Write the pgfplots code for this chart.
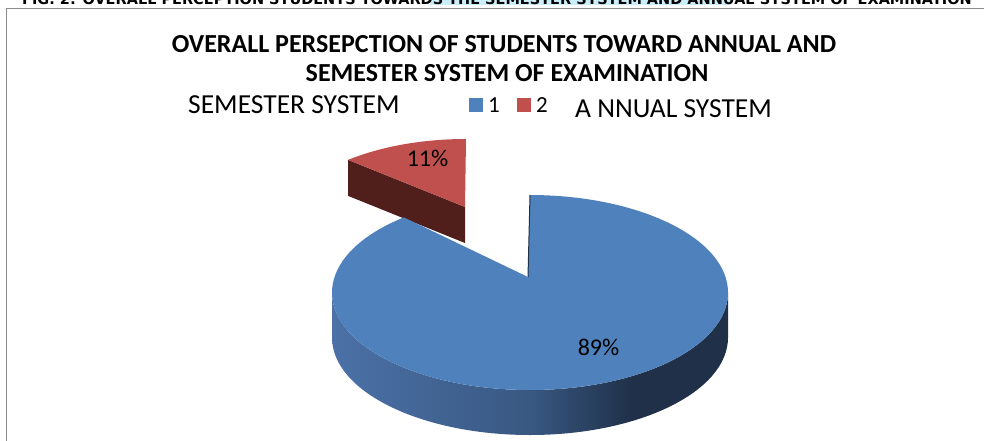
\documentclass[border=0pt]{standalone}
\usepackage{fontspec}
\setmainfont{Carlito}
\newfontfamily\capfont{DejaVu Sans}
\usepackage{pgfplots}
\usepackage{pgfplotstable}
\pgfplotsset{compat=1.18}

\definecolor{blueTop}{HTML}{4F81BD}
\definecolor{redTop}{HTML}{C0504D}
\definecolor{redSide}{HTML}{501F1C}
\definecolor{sideL}{HTML}{4B71A7}
\definecolor{sideM}{HTML}{395882}
\definecolor{sideR}{HTML}{1F3048}
\definecolor{frameGray}{HTML}{8C8C8C}
\definecolor{hiCyan}{HTML}{CBEFFA}

\pgfdeclarehorizontalshading{blueside}{100bp}{color(0bp)=(sideL); color(25bp)=(sideL); color(50bp)=(sideM); color(63bp)=(sideR); color(75bp)=(sideR); color(100bp)=(sideR)}

% share of each group (percent)
\pgfplotstableread{
group value
1 89
2 11
}\piedata

\begin{document}
\begin{tikzpicture}[x=1pt,y=1pt]
\pgfplotstablegetelem{0}{value}\of\piedata \edef\vA{\pgfplotsretval}
\pgfplotstablegetelem{1}{value}\of\piedata \edef\vB{\pgfplotsretval}
\pgfmathsetmacro\tot{\vA+\vB}
\pgfmathsetmacro\aE{90+360*\vB/\tot}
% blue slice geometry
\def\bAx{528}\def\bAy{163}\def\bCx{530}\def\bCy{147.5}\def\brx{198}\def\bry{97.5}\def\bd{45}
\pgfmathsetmacro\bPx{\bCx+\brx*cos(\aE)}
\pgfmathsetmacro\bPy{\bCy+\bry*sin(\aE)}
\pgfmathsetmacro\bTx{\bCx}
\pgfmathsetmacro\bTy{\bCy+\bry}
\pgfmathsetmacro\bLx{\bCx-\brx}
% red slice geometry (exploded)
\def\rAx{465}\def\rAy{233}\def\rCx{466}\def\rCy{210}\def\rrx{185}\def\rry{91}\def\rd{36}
\pgfmathsetmacro\rPx{\rCx+\rrx*cos(\aE)}
\pgfmathsetmacro\rPy{\rCy+\rry*sin(\aE)}
\pgfmathsetmacro\rTy{\rCy+\rry}
\pgfmathsetmacro\rPyd{\rPy-\rd}
\pgfmathsetmacro\rAyd{\rAy-\rd}
\begin{axis}[
  at={(0,0)}, anchor=south west,
  scale only axis, width=984pt, height=440pt,
  xmin=0, xmax=984, ymin=0, ymax=440,
  hide axis, clip=false, disabledatascaling,
]
% red exploded slice: cut face, then top
\fill[redSide] (axis cs:\rAx,\rAy) -- (axis cs:\rPx,\rPy) -- (axis cs:\rPx,\rPyd) -- (axis cs:\rAx,\rAyd) -- cycle;
\fill[redTop] (axis cs:\rAx,\rAy) -- (axis cs:\rCx,\rTy) arc[start angle=90, end angle=\aE, x radius=\rrx, y radius=\rry] -- cycle;
% blue slice: front side, then top
\shade[shading=blueside] (axis cs:\bLx,\bCy) arc[start angle=180, end angle=360, x radius=\brx, y radius=\bry] -- ++(0,-\bd) arc[start angle=360, end angle=180, x radius=\brx, y radius=\bry] -- cycle;
\fill[blueTop] (axis cs:\bAx,\bAy) -- (axis cs:\bPx,\bPy) arc[start angle=\aE, end angle=450, x radius=\brx, y radius=\bry] -- cycle;
\draw[sideR, line width=1pt] (axis cs:\bAx,\bAy) -- (axis cs:\bTx,\bTy);
% data labels
\node[anchor=base, font=\fontsize{24}{28}\selectfont] at (axis cs:427.5,274) {11\%};
\node[anchor=base, font=\fontsize{24}{28}\selectfont] at (axis cs:598.5,85) {89\%};
% title
\node[anchor=base, inner sep=0pt, font=\fontsize{26}{30}\selectfont\bfseries] at (axis cs:504,387) {OVERALL PERSEPCTION OF STUDENTS TOWARD ANNUAL AND};
\node[anchor=base, inner sep=0pt, font=\fontsize{26}{30}\selectfont\bfseries] at (axis cs:507,358) {SEMESTER SYSTEM OF EXAMINATION};
% legend row
\node[anchor=base west, inner sep=0pt, font=\fontsize{27.5}{30}\selectfont] at (axis cs:188,326.7) {SEMESTER SYSTEM};
\fill[blueTop] (axis cs:469,328) rectangle (axis cs:483,342);
\node[anchor=base west, inner sep=0pt, font=\fontsize{23}{27}\selectfont] at (axis cs:488,327) {1};
\fill[redTop] (axis cs:517,328) rectangle (axis cs:531,342);
\node[anchor=base west, inner sep=0pt, font=\fontsize{23}{27}\selectfont] at (axis cs:536,327) {2};
\node[anchor=base west, inner sep=0pt, font=\fontsize{27.5}{30}\selectfont] at (axis cs:575,323) {A NNUAL SYSTEM};
\end{axis}
% frame and cut-off caption
\fill[hiCyan, overlay] (430,434.5) rectangle (730,442);
\draw[frameGray, line width=1pt, overlay] (6,-5) -- (6,431) -- (990,431);
\node[overlay, anchor=base west, inner sep=0pt, font=\capfont\bfseries\fontsize{14.5}{16}\selectfont] at (22,435.5) {FIG. 2: OVERALL PERCEPTION STUDENTS TOWARDS THE SEMESTER SYSTEM AND ANNUAL SYSTEM OF EXAMINATION};
\pgfresetboundingbox
\useasboundingbox (0,0) rectangle (984,440);
\end{tikzpicture}
\end{document}
